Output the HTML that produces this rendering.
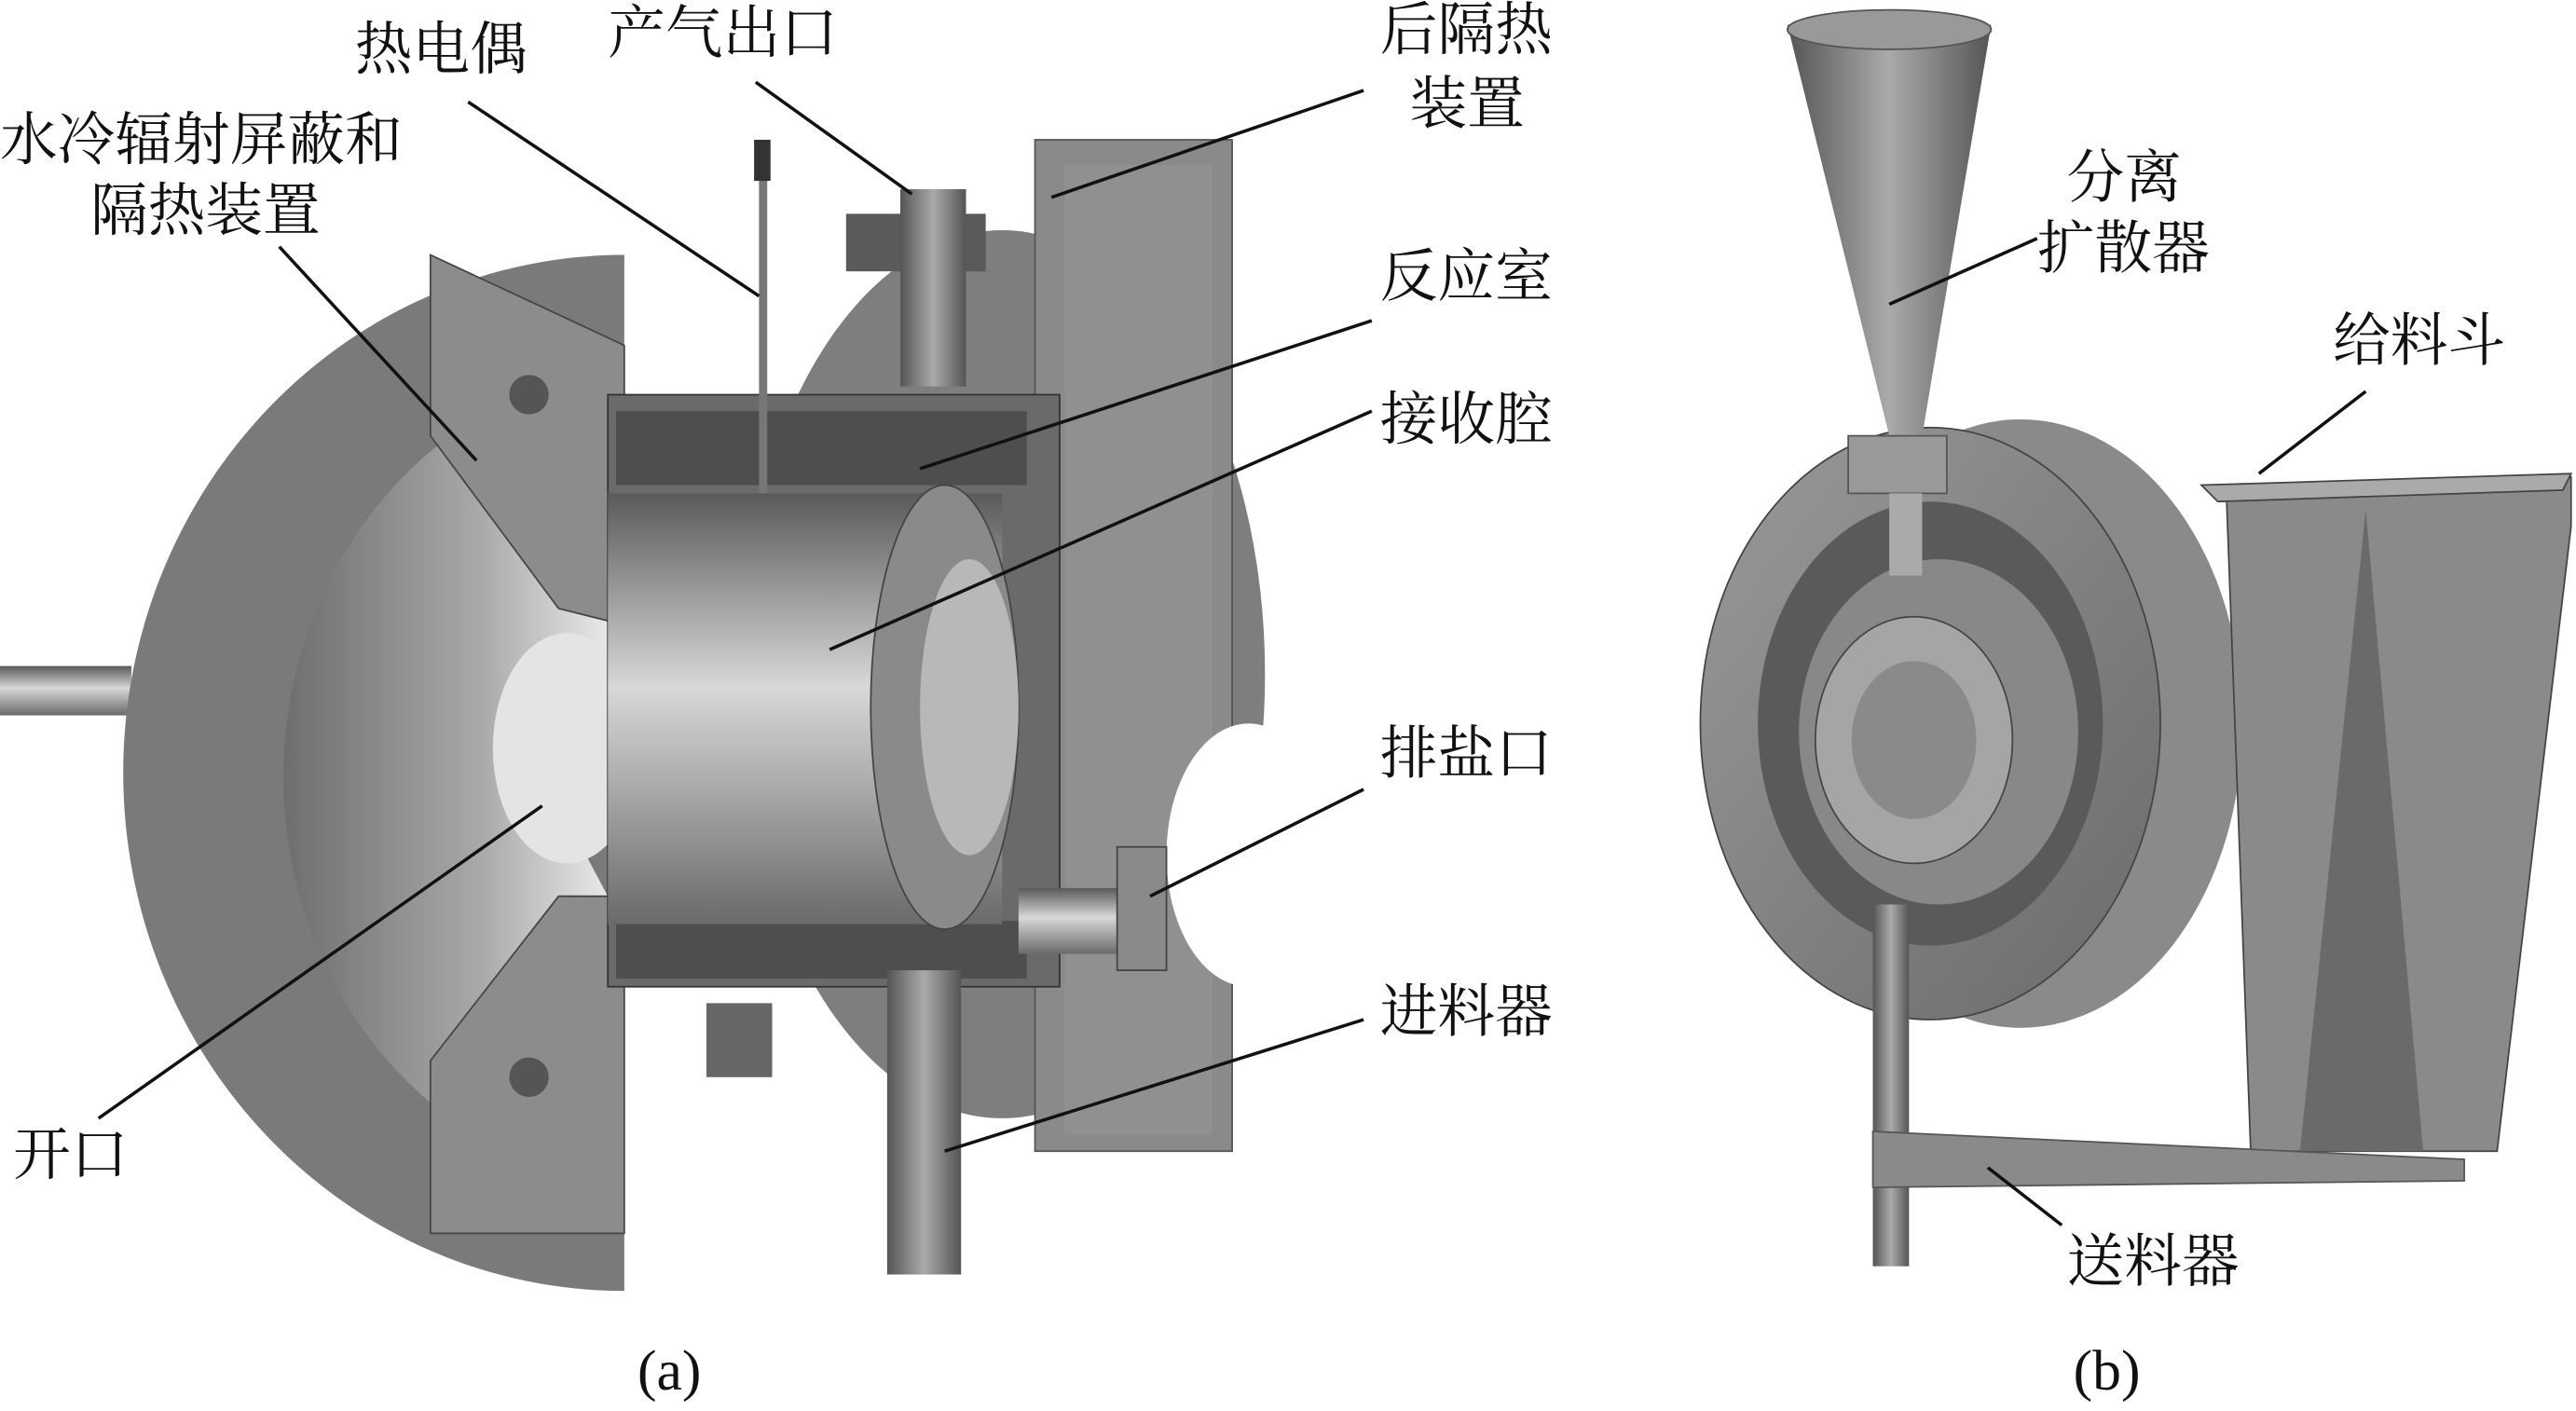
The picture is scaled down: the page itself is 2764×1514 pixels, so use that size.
<!DOCTYPE html>
<html><head><meta charset="utf-8"><style>
html,body{margin:0;padding:0;background:#fff}
svg{display:block}
text{font-family:"Liberation Serif","Noto Serif CJK SC",serif;font-size:35px;fill:#111}
</style></head><body>
<svg width="2764" height="1514" viewBox="0 0 1568 858" preserveAspectRatio="none" xmlns="http://www.w3.org/2000/svg">
<defs>
<linearGradient id="cone" x1="0" y1="0" x2="1" y2="0">
<stop offset="0" stop-color="#6e6e6e"/><stop offset="0.6" stop-color="#a8a8a8"/><stop offset="1" stop-color="#e8e8e8"/></linearGradient>
<linearGradient id="cyl" x1="0" y1="0" x2="0" y2="1">
<stop offset="0" stop-color="#5a5a5a"/><stop offset="0.45" stop-color="#d8d8d8"/><stop offset="1" stop-color="#6a6a6a"/></linearGradient>
<linearGradient id="vert" x1="0" y1="0" x2="1" y2="0">
<stop offset="0" stop-color="#555"/><stop offset="0.5" stop-color="#aaa"/><stop offset="1" stop-color="#555"/></linearGradient>
<linearGradient id="disk" x1="0" y1="0" x2="1" y2="1">
<stop offset="0" stop-color="#9a9a9a"/><stop offset="1" stop-color="#6a6a6a"/></linearGradient>
</defs>
<rect x="0" y="405" width="80" height="30" fill="url(#cyl)"/>
<ellipse cx="610" cy="410" rx="160" ry="270" fill="#7e7e7e"/>
<rect x="630" y="85" width="120" height="615" fill="#8a8a8a" stroke="#555"/>
<rect x="648" y="100" width="90" height="590" fill="#909090"/>
<ellipse cx="760" cy="520" rx="50" ry="80" fill="#fff"/>
<path d="M380 155 A305 315 0 0 0 380 785 L380 155 Z" fill="#7a7a7a"/>
<path d="M370 225 A230 250 0 0 0 370 720 L370 545 L330 470 L370 400 Z" fill="url(#cone)"/>
<ellipse cx="345" cy="455" rx="45" ry="70" fill="#e4e4e4"/>
<path d="M262 155 L380 210 L380 380 L340 370 L262 265 Z" fill="#8c8c8c" stroke="#444"/>
<path d="M262 750 L380 750 L380 545 L340 545 L262 645 Z" fill="#8c8c8c" stroke="#444"/>
<circle cx="322" cy="240" r="12" fill="#555"/><circle cx="322" cy="655" r="12" fill="#555"/>
<rect x="370" y="240" width="275" height="360" fill="#6a6a6a" stroke="#333"/>
<rect x="375" y="250" width="250" height="45" fill="#4e4e4e"/>
<rect x="375" y="560" width="250" height="35" fill="#4e4e4e"/>
<rect x="370" y="300" width="240" height="262" fill="url(#cyl)"/>
<ellipse cx="575" cy="430" rx="45" ry="135" fill="#8a8a8a" stroke="#444"/>
<ellipse cx="590" cy="430" rx="30" ry="90" fill="#b8b8b8"/>
<rect x="515" y="130" width="85" height="35" fill="#5a5a5a"/>
<rect x="548" y="115" width="40" height="120" fill="url(#vert)"/>
<rect x="462" y="85" width="5" height="215" fill="#777"/>
<rect x="459" y="85" width="10" height="25" fill="#333"/>
<rect x="620" y="540" width="90" height="40" fill="url(#cyl)"/>
<rect x="680" y="515" width="30" height="75" fill="#8a8a8a" stroke="#444"/>
<rect x="540" y="590" width="45" height="185" fill="url(#vert)"/>
<rect x="430" y="610" width="40" height="45" fill="#666"/>
<ellipse cx="1230" cy="440" rx="135" ry="185" fill="#8a8a8a"/>
<ellipse cx="1175" cy="440" rx="140" ry="180" fill="url(#disk)" stroke="#444"/>
<ellipse cx="1175" cy="440" rx="105" ry="135" fill="#5a5a5a"/>
<ellipse cx="1180" cy="445" rx="85" ry="105" fill="#888"/>
<ellipse cx="1165" cy="450" rx="60" ry="75" fill="#a5a5a5" stroke="#444"/>
<ellipse cx="1165" cy="450" rx="38" ry="48" fill="#8a8a8a"/>
<path d="M1088 15 L1212 15 L1170 265 L1150 265 Z" fill="url(#vert)"/>
<ellipse cx="1150" cy="18" rx="62" ry="12" fill="#999" stroke="#555"/>
<rect x="1125" y="265" width="60" height="35" fill="#999" stroke="#555"/>
<rect x="1150" y="300" width="20" height="50" fill="#aaa"/>
<path d="M1355 295 L1565 290 L1565 320 L1520 700 L1370 700 Z" fill="#8a8a8a" stroke="#444"/>
<path d="M1340 295 L1565 288 L1560 298 L1350 305 Z" fill="#aaa" stroke="#444"/>
<path d="M1440 310 L1475 700 L1400 700 Z" fill="#6a6a6a"/>
<rect x="1140" y="550" width="22" height="220" fill="url(#vert)"/>
<path d="M1140 688 L1500 705 L1500 718 L1140 722 Z" fill="#8a8a8a" stroke="#555"/>
<g stroke="#111" stroke-width="2" fill="none">
<line x1="285" y1="62" x2="462" y2="180"/>
<line x1="460" y1="50" x2="555" y2="118"/>
<line x1="830" y1="55" x2="640" y2="120"/>
<line x1="170" y1="150" x2="290" y2="280"/>
<line x1="835" y1="195" x2="560" y2="285"/>
<line x1="835" y1="250" x2="505" y2="395"/>
<line x1="830" y1="480" x2="700" y2="545"/>
<line x1="830" y1="620" x2="575" y2="700"/>
<line x1="60" y1="680" x2="330" y2="490"/>
<line x1="1240" y1="145" x2="1150" y2="185"/>
<line x1="1440" y1="238" x2="1375" y2="288"/>
<line x1="1255" y1="745" x2="1210" y2="710"/>
</g>
<text x="216" y="42">热电偶</text>
<text x="370" y="32">产气出口</text>
<text x="840" y="30">后隔热</text>
<text x="858" y="75">装置</text>
<text x="0" y="97">水冷辐射屏蔽和</text>
<text x="55" y="140">隔热装置</text>
<text x="840" y="180">反应室</text>
<text x="840" y="267">接收腔</text>
<text x="840" y="470">排盐口</text>
<text x="840" y="627">进料器</text>
<text x="8" y="714">开口</text>
<text x="1258" y="120">分离</text>
<text x="1240" y="163">扩散器</text>
<text x="1420" y="219">给料斗</text>
<text x="1258" y="779">送料器</text>
<text x="388" y="845">(a)</text>
<text x="1262" y="845">(b)</text>
</svg>
</body></html>
